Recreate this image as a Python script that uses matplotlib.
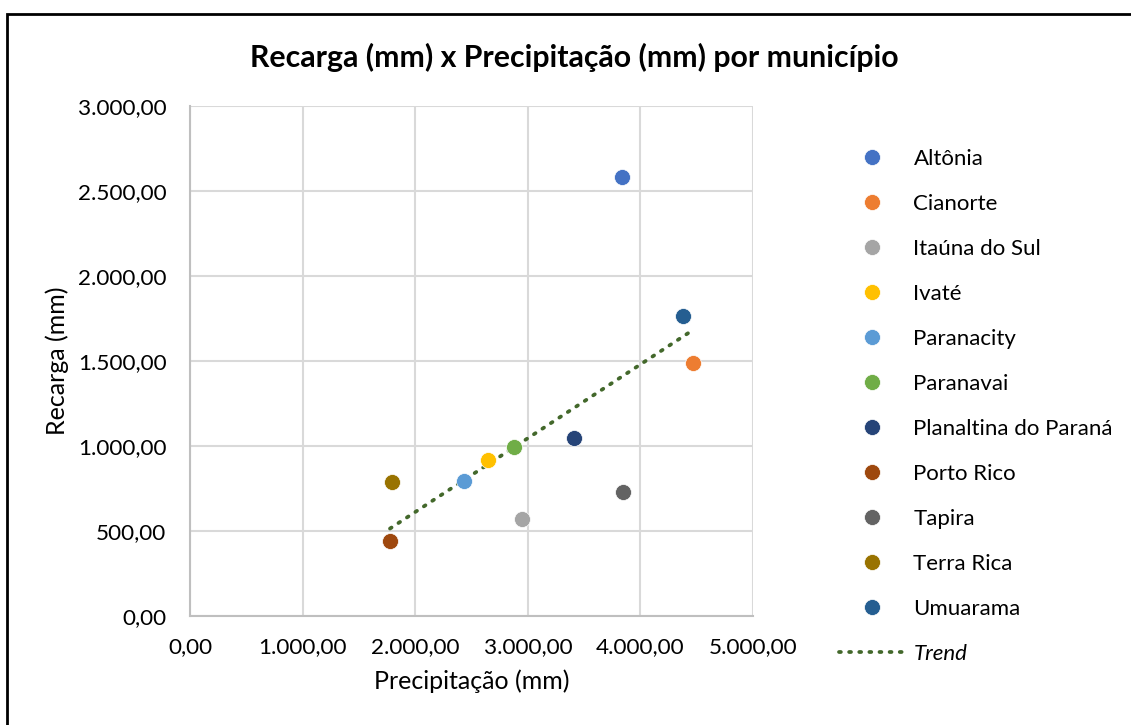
import numpy as np
import matplotlib.pyplot as plt
from matplotlib.patches import Rectangle
from matplotlib.ticker import FuncFormatter

municipios = ['Altônia', 'Cianorte', 'Itaúna do Sul', 'Ivaté', 'Paranacity',
              'Paranavai', 'Planaltina do Paraná', 'Porto Rico', 'Tapira',
              'Terra Rica', 'Umuarama']
precipitacao = [3837, 4467, 2948, 2647, 2433, 2877, 3410, 1776, 3845, 1794, 4378]
recarga = [2582, 1488, 571, 918, 794, 994, 1047, 441, 729, 788, 1765]
cores = ['#4472C4', '#ED7D31', '#A5A5A5', '#FFC000', '#5B9BD5', '#70AD47',
         '#264478', '#9E480E', '#636363', '#997300', '#255E91']

plt.rcParams['font.family'] = ['Lato', 'DejaVu Sans']


def br_fmt(v, pos):
    s = f'{v:,.2f}'
    return s.replace(',', 'X').replace('.', ',').replace('X', '.')


fig = plt.figure(figsize=(11.31, 7.25), dpi=100)
ax = fig.add_axes([0.168, 0.1503, 0.4978, 0.7035])

for nome, x, y, c in zip(municipios, precipitacao, recarga, cores):
    ax.plot([x], [y], 'o', ms=11.5, color=c, mec='white', mew=0.5,
            label=nome, zorder=3)

# linear trend over all points
coef = np.polyfit(precipitacao, recarga, 1)
xs = np.array([min(precipitacao), max(precipitacao)])
ax.plot(xs, np.polyval(coef, xs), color='#43682B', lw=2.7,
        linestyle=(0, (0.5, 2.2)), dash_capstyle='round', label='Trend', zorder=2)

ax.set_xlim(0, 5000)
ax.set_ylim(0, 3000)
ax.set_xticks(np.arange(0, 5001, 1000))
ax.set_yticks(np.arange(0, 3001, 500))
ax.xaxis.set_major_formatter(FuncFormatter(br_fmt))
ax.yaxis.set_major_formatter(FuncFormatter(br_fmt))
ax.grid(True, color='#D9D9D9', lw=1.5)
ax.set_axisbelow(True)
for sp in ['top', 'right']:
    ax.spines[sp].set_visible(False)
for sp in ['left', 'bottom']:
    ax.spines[sp].set_color('#BFBFBF')
    ax.spines[sp].set_linewidth(1.5)
ax.tick_params(length=0, labelsize=16.2, colors='black')
ax.tick_params(axis='y', pad=17)
ax.tick_params(axis='x', pad=15)

ax.set_xlabel('Precipitação (mm)', fontsize=18, labelpad=9)
ax.set_ylabel('Recarga (mm)', fontsize=18, labelpad=6)
fig.text(0.508, 0.921, 'Recarga (mm) x Precipitação (mm) por município',
         ha='center', va='center', fontsize=21.8, fontweight='bold')

leg = ax.legend(loc='upper left', bbox_to_anchor=(0.734, 0.807),
                bbox_transform=fig.transFigure, frameon=False,
                fontsize=16, labelspacing=1.125, handlelength=3.0,
                handletextpad=0.35, borderaxespad=0)
leg.get_texts()[-1].set_fontstyle('italic')

fig.patches.append(Rectangle((7 / 1131, -0.02), 1.05, 1 - 14 / 725 + 0.02,
                             transform=fig.transFigure, fill=False,
                             edgecolor='black', lw=2))

fig.savefig('out.png', dpi=100)
